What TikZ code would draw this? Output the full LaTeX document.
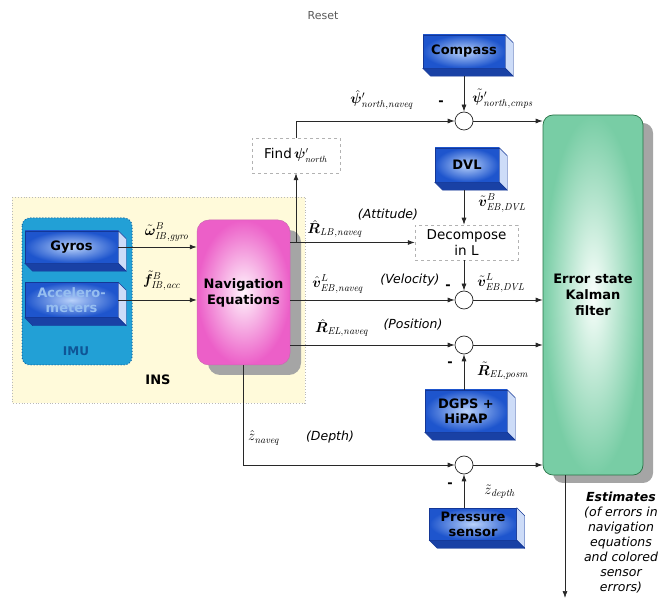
\documentclass[tikz,border=0pt]{standalone}
\usepackage{amsmath,bm}
\usepackage[no-math]{fontspec}
\setmainfont{DejaVu Sans}
\usetikzlibrary{arrows.meta,calc,shadows}
\definecolor{bedge}{RGB}{20,55,150}
\definecolor{bouter}{RGB}{30,85,205}
\definecolor{binner}{RGB}{185,210,250}
\definecolor{sidelight}{RGB}{205,220,248}
\definecolor{sidedark}{RGB}{25,65,165}
\definecolor{navouter}{RGB}{236,95,200}
\definecolor{navinner}{RGB}{255,245,252}
\definecolor{kalouter}{RGB}{120,205,165}
\definecolor{kalinner}{RGB}{250,255,252}
\definecolor{kaledge}{RGB}{40,115,70}
\definecolor{shadowgray}{RGB}{165,165,165}
\definecolor{imufill}{RGB}{34,160,214}
\definecolor{imuedge}{RGB}{20,105,165}
\definecolor{imutext}{RGB}{15,85,150}
\definecolor{insfill}{RGB}{255,250,218}
\definecolor{linecol}{RGB}{40,40,40}
\definecolor{acctext}{RGB}{150,190,240}
\newcommand{\boxfaces}[1]{%
  \path[fill=sidelight,draw=bedge,line width=0.4pt] (#1.north east) -- ++(8,-8) -- ($(#1.south east)+(8,-8)$) -- (#1.south east) -- cycle;
  \path[fill=sidedark,draw=bedge,line width=0.4pt] (#1.south west) -- (#1.south east) -- ++(8,-8) -- ($(#1.south west)+(8,-8)$) -- cycle;}
\tikzset{
  sensor/.style={draw=bedge, line width=0.5pt, inner color=binner, outer color=bouter,
    font=\fontsize{13}{15}\selectfont\bfseries, align=center, inner sep=0pt},
  plainbox/.style={draw=gray!60, dashed, line width=0.5pt, fill=white,
    font=\fontsize{13.5}{16}\selectfont, align=center, inner sep=0pt},
  sumnode/.style={circle, draw=linecol, line width=0.7pt, fill=white, minimum size=18pt, inner sep=0pt},
  arr/.style={-{Latex[length=7pt,width=5pt]}, line width=0.7pt, draw=linecol},
  mlabel/.style={inner sep=0pt, font=\fontsize{14}{16}\selectfont},
  tlabel/.style={inner sep=0pt, font=\fontsize{12.5}{15}\selectfont\itshape},
  minus/.style={inner sep=0pt, font=\fontsize{13}{15}\selectfont\bfseries},
  insarea/.style={draw=gray!55, dotted, line width=0.8pt, fill=insfill},
  imuarea/.style={draw=imuedge, dotted, line width=1pt, fill=imufill, rounded corners=8pt},
}
\begin{document}
\begin{tikzpicture}[x=1pt,y=1pt]
\useasboundingbox (0,0) rectangle (667,-609);
% INS and IMU areas
\path[insarea] (12,-197) rectangle (305,-403);
\node[font=\fontsize{13}{15}\selectfont\bfseries] (instext) at (158,-380) {INS};
\path[imuarea] (22,-218) rectangle (132,-365);
\node[font=\fontsize{12}{14}\selectfont\bfseries, text=imutext] (imutext) at (76,-351) {IMU};
% IMU sensors
\node[sensor, minimum width=93pt, minimum height=32pt] (gyros) at (71.5,-247) {Gyros};
\boxfaces{gyros}
\node[sensor, minimum width=93pt, minimum height=35pt, text=acctext] (acc) at (71.5,-300) {Accelero-\\meters};
\boxfaces{acc}
% Navigation equations
\node[draw=navouter!70!gray, line width=0.5pt, rounded corners=12pt, inner color=navinner, outer color=navouter,
  minimum width=93pt, minimum height=145pt, inner sep=0pt, align=center,
  font=\fontsize{13}{16}\selectfont\bfseries,
  drop shadow={shadow xshift=11pt, shadow yshift=-10pt, fill=shadowgray, opacity=1}] (nav) at (243.5,-292.5) {Navigation\\Equations};
% Kalman
\node[draw=kaledge, line width=0.7pt, rounded corners=10pt, inner color=kalinner, outer color=kalouter,
  minimum width=100pt, minimum height=360pt, inner sep=0pt, align=center,
  font=\fontsize{13}{16}\selectfont\bfseries,
  drop shadow={shadow xshift=10pt, shadow yshift=-8pt, fill=shadowgray, opacity=1}] (kal) at (593,-295) {Error state\\Kalman\\filter};
% External sensors
\node[sensor, minimum width=82pt, minimum height=33pt] (compass) at (464,-51.5) {Compass};
\boxfaces{compass}
\node[sensor, minimum width=64pt, minimum height=34pt] (dvl) at (467,-165) {DVL};
\boxfaces{dvl}
\node[sensor, minimum width=82pt, minimum height=42pt] (dgps) at (466,-411) {DGPS +\\HiPAP};
\boxfaces{dgps}
\node[sensor, minimum width=87pt, minimum height=32pt] (press) at (473,-524) {Pressure\\sensor};
\boxfaces{press}
% Plain boxes
\node[plainbox, minimum width=88pt, minimum height=35pt] (find) at (296,-155.5) {Find\,$\bm{\psi}'_{\mathit{north}}$};
\node[plainbox, minimum width=103pt, minimum height=35pt] (dec) at (466.5,-242.5) {Decompose\\in L};
% Summation circles
\node[sumnode] (c1) at (464,-121) {};
\node[sumnode] (cv) at (464,-300) {};
\node[sumnode] (cp) at (464,-345) {};
\node[sumnode] (cd) at (464,-465) {};
\coordinate (est) at (565,-598);
% Connectors
\draw[arr] (gyros.east) -- (nav.west |- gyros.east);
\draw[arr] (acc.east) -- (nav.west |- acc.east);
\draw[arr] ($(compass.south -| c1)+(0,-8)$) -- (c1.north);
\draw[arr] (find.north) |- (c1.west);
\draw[arr] (c1.east) -- (c1 -| kal.west);
\draw[arr] (nav.east |- dec) -- (dec.west);
\draw[arr] (find.south |- dec) -- (find.south);
\draw[arr] ($(dvl.south -| c1)+(0,-8)$) -- (dec.north -| c1);
\draw[arr] (dec.south -| cv) -- (cv.north);
\draw[arr] (nav.east |- cv) -- (cv.west);
\draw[arr] (cv.east) -- (cv -| kal.west);
\draw[arr] (nav.east |- cp) -- (cp.west);
\draw[arr] (cp.east) -- (cp -| kal.west);
\draw[arr] (dgps.north -| cp) -- (cp.south);
\draw[arr] (nav.south) |- (cd.west);
\draw[arr] (cd.east) -- (cd -| kal.west);
\draw[arr] (press.north -| cd) -- (cd.south);
\draw[arr] (kal.south -| est) -- (est);
% Labels
\node[inner sep=0pt, font=\fontsize{11}{13}\selectfont, text=gray!70!black] (reset) at (323,-16) {Reset};
\node[mlabel] (l1) at (382,-100) {$\hat{\bm{\psi}}'_{\mathit{north,naveq}}$};
\node[minus] (m1) at (441,-103) {-};
\node[mlabel] (l2) at (503,-99) {$\tilde{\bm{\psi}}'_{\mathit{north,cmps}}$};
\node[mlabel] (l3) at (502,-203) {$\tilde{\bm{v}}^{B}_{\mathit{EB,DVL}}$};
\node[mlabel] (l4) at (335,-229) {$\hat{\bm{R}}_{\mathit{LB,naveq}}$};
\node[tlabel] (t4) at (388,-215) {(Attitude)};
\node[mlabel] (l5) at (338,-284) {$\hat{\bm{v}}^{L}_{\mathit{EB,naveq}}$};
\node[tlabel] (t5) at (410,-280) {(Velocity)};
\node[mlabel] (l6) at (501,-283) {$\tilde{\bm{v}}^{L}_{\mathit{EB,DVL}}$};
\node[minus] (m6) at (448,-287) {-};
\node[mlabel] (l7) at (342,-328) {$\hat{\bm{R}}_{\mathit{EL,naveq}}$};
\node[tlabel] (t7) at (413,-325) {(Position)};
\node[minus] (m8) at (450,-364) {-};
\node[mlabel] (l8) at (503,-371) {$\tilde{\bm{R}}_{\mathit{EL,posm}}$};
\node[mlabel] (l9) at (264,-438) {$\hat{z}_{\mathit{naveq}}$};
\node[tlabel] (t9) at (330,-437) {(Depth)};
\node[minus] (m10) at (450,-485) {-};
\node[mlabel] (l10) at (500,-492) {$\tilde{z}_{\mathit{depth}}$};
\node[mlabel] (l11) at (167,-232) {$\tilde{\bm{\omega}}^{B}_{\mathit{IB,gyro}}$};
\node[mlabel] (l12) at (162,-281) {$\tilde{\bm{f}}^{B}_{\mathit{IB,acc}}$};
\node[align=center, inner sep=0pt, font=\fontsize{12.5}{15}\selectfont\itshape] (esttext) at (621,-543)
  {\textbf{Estimates}\\(of errors in\\navigation\\equations\\and colored\\sensor\\errors)};
\end{tikzpicture}
\end{document}
